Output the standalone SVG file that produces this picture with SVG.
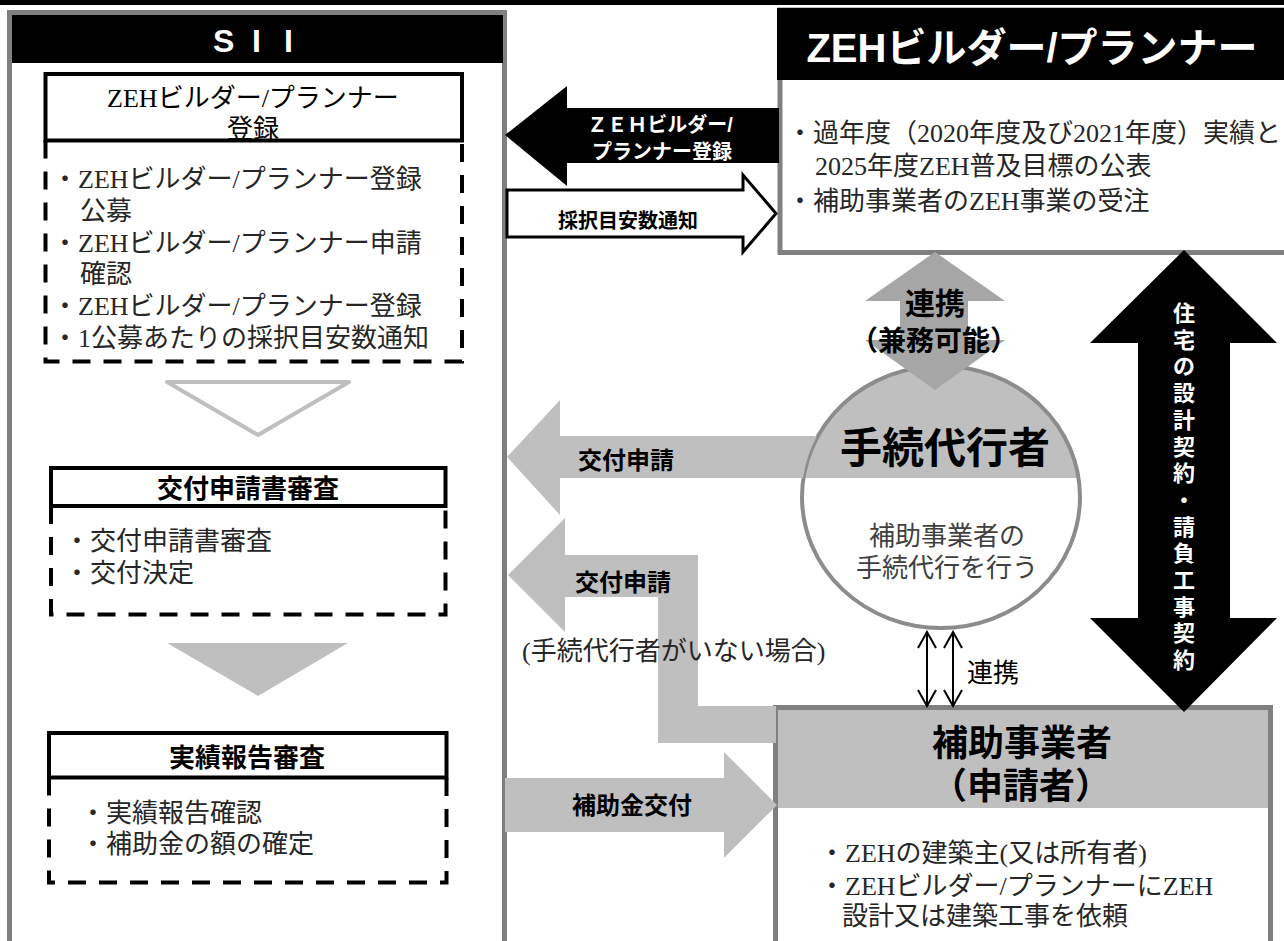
<svg xmlns="http://www.w3.org/2000/svg" width="1284" height="941" viewBox="0 0 1284 941">
<style>
.ser{font-family:'Liberation Serif','Noto Sans CJK JP',serif;font-size:26px;fill:#262626}
.ttl{font-family:'Liberation Serif','Noto Sans CJK JP',serif;font-size:26px;fill:#000}
.sb{font-family:'Liberation Sans','Noto Sans CJK JP',sans-serif;font-weight:bold;fill:#000}
.w{fill:#fff}
.mid{text-anchor:middle}
.dash{fill:none;stroke:#000;stroke-width:4;stroke-dasharray:18 13}
.tbox{fill:#fff;stroke:#000;stroke-width:4}
.lg{fill:#bfbfbf}
</style>
<defs>
<clipPath id="ec"><ellipse cx="941" cy="497" rx="139" ry="131"/></clipPath>
<marker id="v" viewBox="0 0 20 20" refX="18" refY="10" markerWidth="20" markerHeight="20" markerUnits="userSpaceOnUse" orient="auto-start-reverse">
<path d="M2,1 L18,10 L2,19" fill="none" stroke="#000" stroke-width="2"/>
</marker>
</defs>
<rect x="0" y="0" width="1284" height="5" fill="#000"/>

<g id="sii">
<rect x="9.5" y="12.5" width="495" height="950" fill="#fff" stroke="#808080" stroke-width="5"/>
<rect x="12" y="15" width="491" height="48" fill="#000"/>
<text class="w" x="213 240 252 274 284" y="52" style="font-family:'Liberation Sans',sans-serif;font-weight:bold;font-size:32px" xml:space="preserve">S I I</text>
</g>

<g id="zeh-registration">
<rect class="tbox" x="45.5" y="74" width="416.5" height="66.5"/>
<path class="dash" d="M45.5,140.5 V361.5 H462 V140.5"/>
<text class="ttl mid" x="253" y="107">ZEHビルダー/プランナー</text>
<text class="ttl mid" x="253" y="138">登録</text>
<text class="ser" x="52" y="188">・ZEHビルダー/プランナー登録</text>
<text class="ser" x="80" y="220">公募</text>
<text class="ser" x="52" y="252">・ZEHビルダー/プランナー申請</text>
<text class="ser" x="80" y="283">確認</text>
<text class="ser" x="52" y="315">・ZEHビルダー/プランナー登録</text>
<text class="ser" x="52" y="347">・1公募あたりの採択目安数通知</text>
</g>
<polygon id="step-arrow-1" points="167,382 349,382 258,435" fill="none" stroke="#bfbfbf" stroke-width="4" stroke-linejoin="round"/>

<g id="kofu-shinsa">
<rect class="tbox" x="51" y="468" width="394.5" height="38"/>
<path class="dash" d="M51,506 V614.5 H445.5 V506"/>
<text class="sb mid" x="248" y="498" font-size="26">交付申請書審査</text>
<text class="ser" x="64" y="550">・交付申請書審査</text>
<text class="ser" x="64" y="582">・交付決定</text>
</g>
<polygon id="step-arrow-2" points="167,643 348,643 258,696" class="lg"/>

<g id="jisseki-shinsa">
<rect class="tbox" x="49" y="733" width="397.5" height="44.5"/>
<path class="dash" d="M49,777.5 V882.5 H446.5 V777.5"/>
<text class="sb mid" x="247" y="767" font-size="26">実績報告審査</text>
<text class="ser" x="80" y="822">・実績報告確認</text>
<text class="ser" x="80" y="853">・補助金の額の確定</text>
</g>

<g id="zeh-builder">
<rect x="780" y="10" width="520" height="242.5" fill="#fff" stroke="#808080" stroke-width="5"/>
<rect x="777" y="8" width="510" height="72" fill="#000"/>
<text class="sb w mid" x="1032" y="62" font-size="40">ZEHビルダー/プランナー</text>
<text class="ser" x="787" y="142">・過年度（2020年度及び2021年度）実績と</text>
<text class="ser" x="815" y="175">2025年度ZEH普及目標の公表</text>
<text class="ser" x="787" y="210">・補助事業者のZEH事業の受注</text>
</g>

<g id="tetsuzuki-daikousha">
<ellipse cx="941" cy="497" rx="139" ry="131" fill="#fff"/>
<rect x="800" y="360" width="290" height="118" class="lg" clip-path="url(#ec)"/>
<ellipse cx="941" cy="497" rx="139" ry="131" fill="none" stroke="#8c8c8c" stroke-width="4"/>
<text class="sb mid" x="945" y="463" font-size="42">手続代行者</text>
<text class="ser mid" x="947" y="545" font-size="25" style="fill:#404040">補助事業者の</text>
<text class="ser mid" x="947" y="577" font-size="25" style="fill:#404040">手続代行を行う</text>
</g>

<g id="hojo-jigyosha">
<rect x="775.5" y="707.5" width="495" height="260" fill="#fff"/>
<rect x="775.5" y="707.5" width="495" height="100.5" class="lg"/>
<rect x="775.5" y="707.5" width="495" height="260" fill="none" stroke="#808080" stroke-width="5"/>
<text class="sb mid" x="1022" y="756" font-size="36">補助事業者</text>
<text class="sb mid" x="1021" y="799" font-size="36">（申請者）</text>
<text class="ser" x="819" y="862">・ZEHの建築主(又は所有者)</text>
<text class="ser" x="819" y="895">・ZEHビルダー/プランナーにZEH</text>
<text class="ser" x="842" y="925">設計又は建築工事を依頼</text>
</g>

<g id="connectors">
<path d="M505,135 L567,86 L567,108 L779,108 L779,163 L567,163 L567,186 Z" fill="#000"/>
<text class="sb w mid" x="660" y="132" font-size="20">ＺＥＨビルダー/</text>
<text class="sb w mid" x="662" y="159" font-size="20">プランナー登録</text>

<path d="M507,190 L743,190 L743,175 L776,213.5 L743,252 L743,237 L507,237 Z" fill="#fff" stroke="#000" stroke-width="3"/>
<text class="sb mid" x="628" y="228" font-size="20">採択目安数通知</text>

<path d="M507,457 L560,400 L560,436 L817,436 A139,131 0 0,0 803,478 L560,478 L560,515 Z" class="lg"/>
<text class="sb mid" x="626" y="469" font-size="24">交付申請</text>

<path d="M508,575 L565,518 L565,555 L698,555 L698,706 L776,706 L776,743 L658,743 L658,597 L565,597 L565,632 Z" class="lg"/>
<text class="sb mid" x="623" y="591" font-size="24">交付申請</text>
<text class="ser" x="522" y="660">(手続代行者がいない場合)</text>

<path d="M505,778 L724,778 L724,752 L777,805 L724,858 L724,832 L505,832 Z" class="lg"/>
<text class="sb mid" x="632" y="814" font-size="24">補助金交付</text>

<path d="M935,252 L1005,301 L968,301 L968,340 L1005,340 L935,390 L865,340 L900,340 L900,301 L865,301 Z" fill="#a6a6a6"/>
<text class="sb mid" x="935" y="314" font-size="30">連携</text>
<text class="sb mid" x="934" y="351" font-size="28">（兼務可能）</text>

<line x1="927" y1="632" x2="927" y2="706" stroke="#000" stroke-width="2" marker-start="url(#v)" marker-end="url(#v)"/>
<line x1="953" y1="632" x2="953" y2="706" stroke="#000" stroke-width="2" marker-start="url(#v)" marker-end="url(#v)"/>
<text x="967" y="682" style="font-family:'Noto Sans CJK JP',sans-serif;font-size:26px;fill:#000">連携</text>

<path d="M1184,250 L1277,343 L1230,343 L1230,618 L1277,618 L1184,712 L1090,618 L1138,618 L1138,343 L1090,343 Z" fill="#000"/>
<text class="sb w mid" font-size="22" x="1184" y="321"><tspan x="1184">住</tspan><tspan x="1184" dy="26.7">宅</tspan><tspan x="1184" dy="26.7">の</tspan><tspan x="1184" dy="26.7">設</tspan><tspan x="1184" dy="26.7">計</tspan><tspan x="1184" dy="26.7">契</tspan><tspan x="1184" dy="26.7">約</tspan><tspan x="1184" dy="26.7">・</tspan><tspan x="1184" dy="26.7">請</tspan><tspan x="1184" dy="26.7">負</tspan><tspan x="1184" dy="26.7">工</tspan><tspan x="1184" dy="26.7">事</tspan><tspan x="1184" dy="26.7">契</tspan><tspan x="1184" dy="26.7">約</tspan></text>
</g>
</svg>
